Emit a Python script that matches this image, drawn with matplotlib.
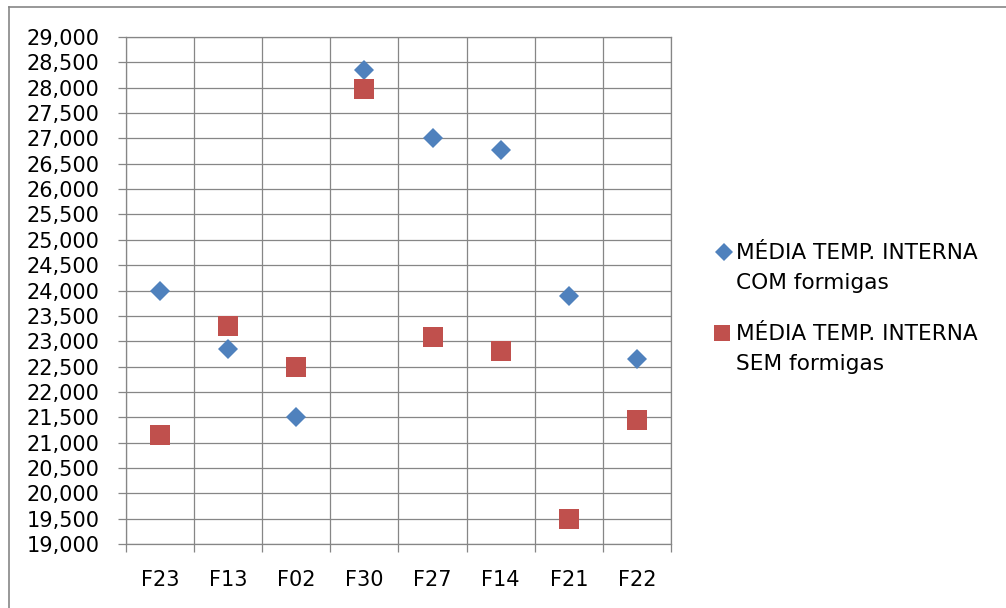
import matplotlib
matplotlib.use("Agg")
import matplotlib.pyplot as plt
from matplotlib.ticker import FixedLocator, FuncFormatter, MultipleLocator
from matplotlib.lines import Line2D

# Fazendas e médias de temperatura interna
categorias = ["F23", "F13", "F02", "F30", "F27", "F14", "F21", "F22"]
com_formigas = [24000, 22850, 21500, 28350, 27000, 26780, 23900, 22650]
sem_formigas = [21150, 23300, 22500, 27980, 23080, 22800, 19500, 21450]
rotulos_legenda = ["MÉDIA TEMP. INTERNA\nCOM formigas", "MÉDIA TEMP. INTERNA\nSEM formigas"]

AZUL = "#4F81BD"
VERMELHO = "#C0504D"
CINZA = "#868686"

plt.rcParams["font.family"] = ["DejaVu Sans"]

W, H = 1006, 608
fig = plt.figure(figsize=(W / 100, H / 100), dpi=100)
ax = fig.add_axes([126 / W, 1 - 544 / H, (671 - 126) / W, (544 - 37) / H])

x = list(range(len(categorias)))
ax.plot(x, com_formigas, linestyle="none", marker="D", markersize=10.2,
        color=AZUL, markeredgewidth=0, zorder=3, clip_on=False)
ax.plot(x, sem_formigas, linestyle="none", marker="s", markersize=14.2,
        color=VERMELHO, markeredgewidth=0, zorder=3, clip_on=False)

ax.set_xlim(-0.5, len(categorias) - 0.5)
ax.set_ylim(19000, 29000)

ax.set_xticks(x)
ax.set_xticklabels(categorias)
ax.xaxis.set_minor_locator(FixedLocator([i - 0.5 for i in range(len(categorias) + 1)]))
ax.yaxis.set_major_locator(MultipleLocator(500))
ax.yaxis.set_major_formatter(FuncFormatter(lambda v, p: f"{v:,.0f}"))

ax.tick_params(axis="x", which="major", length=0, pad=19, labelsize=15)
ax.tick_params(axis="x", which="minor", length=5.8, width=0.9, color=CINZA, direction="out")
ax.tick_params(axis="y", which="major", length=5.8, width=0.9, color=CINZA,
               direction="out", pad=13.5, labelsize=15)

ax.grid(True, axis="y", which="major", color=CINZA, linewidth=0.9)
ax.grid(True, axis="x", which="minor", color=CINZA, linewidth=0.9)
ax.set_axisbelow(True)
for s in ax.spines.values():
    s.set_color(CINZA)
    s.set_linewidth(0.9)

# Moldura externa do gráfico
fig.add_artist(Line2D([9 / W, 9 / W], [0, 1 - 7 / H], transform=fig.transFigure,
                      color=CINZA, linewidth=1.2))
fig.add_artist(Line2D([9 / W, 1], [1 - 7 / H, 1 - 7 / H], transform=fig.transFigure,
                      color=CINZA, linewidth=1.2))

# Legenda
entradas = [("D", 9.2, AZUL, 724, 252), ("s", 12.2, VERMELHO, 722, 333)]
for (mk, ms, cor, mx, my), rot in zip(entradas, rotulos_legenda):
    fig.add_artist(Line2D([mx / W], [1 - my / H], transform=fig.transFigure,
                          marker=mk, markersize=ms, color=cor,
                          markeredgewidth=0, linestyle="none"))
    fig.text(736 / W, 1 - (my - 9) / H, rot, fontsize=15.6, va="top", ha="left",
             linespacing=1.62)

fig.savefig("out.png", dpi=100)
